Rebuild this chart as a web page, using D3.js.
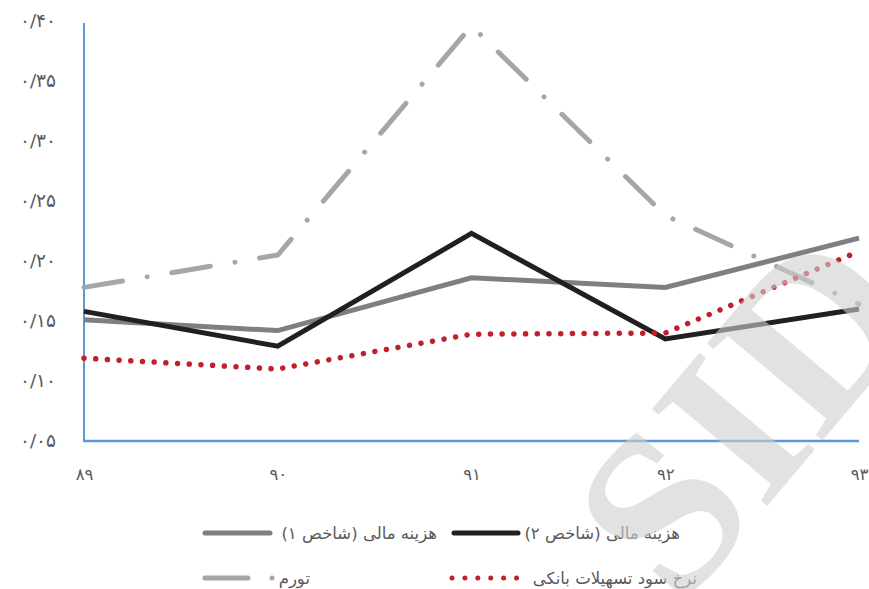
<!DOCTYPE html>
<html><head><meta charset="utf-8">
<script src="https://cdn.jsdelivr.net/npm/d3@7"></script>
<style>
html,body{margin:0;padding:0;background:#fff;}
svg{display:block;}
</style></head>
<body>
<svg id="chart" width="869" height="589"></svg>
<script>
// ---- data ----
const categories = ["89","90","91","92","93"];
const yTicks = [0.05,0.10,0.15,0.20,0.25,0.30,0.35,0.40];
const cost1 = [0.151,0.142,0.186,0.178,0.219];      // هزینه مالی (شاخص ۱)
const cost2 = [0.158,0.129,0.223,0.135,0.160];      // هزینه مالی (شاخص ۲)
const inflation = [0.178,0.205,0.396,0.238,0.164];  // تورم
const loanRate = [0.119,0.110,0.139,0.140,0.208];   // نرخ سود تسهیلات بانکی
const seriesNames = ["هزینه مالی (شاخص ۱)","هزینه مالی (شاخص ۲)","تورم","نرخ سود تسهیلات بانکی"];

const fa = s => String(s).replace(/[0-9]/g, d => "۰۱۲۳۴۵۶۷۸۹"[+d]);
const FONT = "DejaVu Sans";

const svg = d3.select("#chart");
const x = d3.scalePoint().domain(categories).range([84, 859]);
const y = d3.scaleLinear().domain([0.05, 0.40]).range([441, 21]);

// y labels
const yAxis = d3.axisLeft(y).tickValues(yTicks).tickSize(0).tickPadding(0)
  .tickFormat(v => fa("0/" + d3.format(".2f")(v).split(".")[1]));
const gy = svg.append("g").attr("transform","translate(56,0)").call(yAxis);
gy.select(".domain").remove();
gy.selectAll("text").style("font-size","18.5px").attr("fill","#595959")
  .style("font-family",FONT).attr("dy","0.3em").style("letter-spacing","4px")
  .style("direction","ltr");

// x labels
const xAxis = d3.axisBottom(x).tickSize(0).tickPadding(0).tickFormat(fa);
const gx = svg.append("g").attr("transform","translate(0,468)").call(xAxis);
gx.select(".domain").remove();
gx.selectAll("text").style("font-size","16.5px").attr("fill","#595959").style("font-family",FONT).attr("dy","0.7em");

// axis lines
svg.append("line").attr("x1",84).attr("x2",84).attr("y1",23).attr("y2",442)
  .attr("stroke","#5b9bd5").attr("stroke-width",2);
svg.append("line").attr("x1",83).attr("x2",859).attr("y1",441).attr("y2",441)
  .attr("stroke","#5b9bd5").attr("stroke-width",2.5);

const line = d3.line().x((d,i)=>x(categories[i])).y(d=>y(d));
const styles = [
  {data:cost1, color:"#7f7f83", dash:null, cap:"butt", w:5},
  {data:cost2, color:"#231f20", dash:null, cap:"butt", w:5},
  {data:inflation, color:"#a6a6a6", dash:"39,25,0.01,25", cap:"round", w:5},
  {data:loanRate, color:"#c1202b", dash:"0.01,11.7", cap:"round", w:5.5}
];
styles.forEach(s => {
  svg.append("path").datum(s.data).attr("d", line)
    .attr("fill","none").attr("stroke",s.color).attr("stroke-width",s.w)
    .attr("stroke-linecap",s.cap).attr("stroke-linejoin","miter")
    .attr("stroke-dasharray",s.dash);
});

// legend
const legendPos = [
  {x1:205,x2:270,y:533,tx:437},
  {x1:454,x2:518,y:533,tx:680},
  {x1:205,x2:273,y:578,tx:310},
  {x1:452,x2:517,y:578,tx:697}
];
const legendDash = [null,null,"43,24,0.01,30","0.01,12.9"];
legendPos.forEach((p,i) => {
  const s = styles[i];
  svg.append("line").attr("x1",p.x1).attr("x2",p.x2).attr("y1",p.y).attr("y2",p.y)
    .attr("stroke",s.color).attr("stroke-width",5).attr("stroke-linecap","round")
    .attr("stroke-dasharray",legendDash[i]);
  svg.append("text").attr("x",p.tx).attr("y",p.y+6)
    .attr("direction","rtl").style("direction","rtl").attr("text-anchor","start")
    .style("font-family",FONT).style("font-size","16.5px").attr("fill","#595959").text(seriesNames[i]);
});

// watermark
svg.append("text").attr("transform","translate(680,610) rotate(-50)")
  .style("font-family","Liberation Serif").style("font-size","230px").style("font-weight","bold")
  .attr("fill","#cfcfcf").attr("opacity",0.6)
  .style("direction","ltr").text("SID");
</script>
</body></html>
